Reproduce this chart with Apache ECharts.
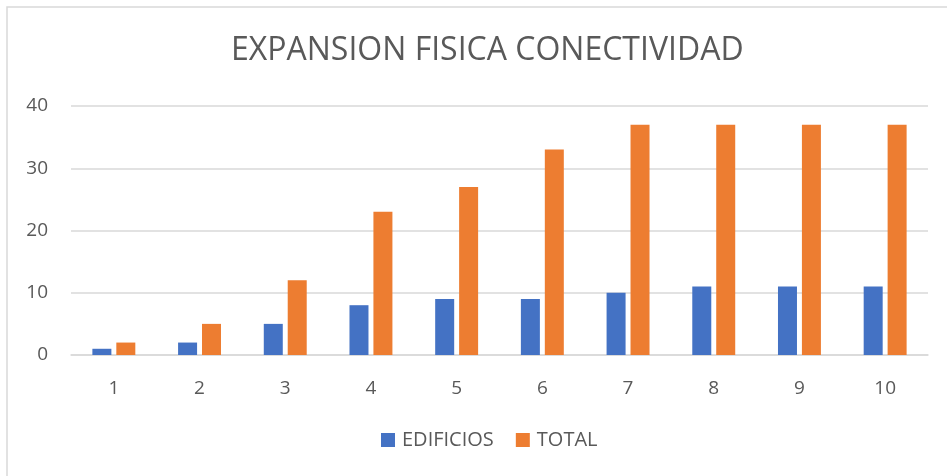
<!DOCTYPE html>
<html>
<head>
    <meta charset="utf-8"/>
    <title>Expansion fisica conectividad</title>
    <script src="https://cdn.jsdelivr.net/npm/echarts@6/dist/echarts.min.js"></script>
    <style>
        html, body { margin: 0; padding: 0; background: #fff; }
        #main { width: 947px; height: 476px; }
    </style>
</head>
<body>
<div id="main"></div>
<script type="text/javascript">
    var categories = ['1', '2', '3', '4', '5', '6', '7', '8', '9', '10'];
    var edificios = [1, 2, 5, 8, 9, 9, 10, 11, 11, 11];
    var total = [2, 5, 12, 23, 27, 33, 37, 37, 37, 37];

    var font = '"Open Sans", "Liberation Sans", sans-serif';
    var myChart = echarts.init(document.getElementById('main'));

    var option = {
        backgroundColor: '#fff',
        animation: false,
        // light frame around the chart, like the office chart area
        graphic: [{
            type: 'rect',
            shape: { x: 7, y: 7, width: 980, height: 520 },
            style: { fill: 'none', stroke: '#d9d9d9', lineWidth: 1.5 },
            silent: true
        }],
        title: {
            text: 'EXPANSION FISICA CONECTIVIDAD',
            left: 226,
            top: 30,
            textStyle: {
                color: '#595959',
                fontFamily: font,
                fontSize: 32,
                fontWeight: 'normal'
            }
        },
        legend: {
            data: ['EDIFICIOS', 'TOTAL'],
            bottom: 21,
            left: 376,
            itemWidth: 14,
            itemHeight: 14,
            itemGap: 22,
            icon: 'rect',
            textStyle: { color: '#595959', fontFamily: font, fontSize: 20, padding: [0, 0, 0, 2] }
        },
        grid: {
            left: 71,
            right: 19,
            top: 106,
            bottom: 121,
            containLabel: false
        },
        xAxis: {
            type: 'category',
            data: categories,
            axisLine: { lineStyle: { color: '#d9d9d9', width: 1.5 } },
            axisTick: { show: false },
            axisLabel: { color: '#595959', fontFamily: font, fontSize: 19, margin: 24 }
        },
        yAxis: {
            type: 'value',
            min: 0,
            max: 40,
            interval: 10,
            axisLine: { show: false },
            axisTick: { show: false },
            splitLine: { lineStyle: { color: '#d9d9d9', width: 1.5 } },
            axisLabel: { color: '#595959', fontFamily: font, fontSize: 19, margin: 23 }
        },
        series: [
            {
                name: 'EDIFICIOS',
                type: 'bar',
                data: edificios,
                barWidth: 19,
                barGap: '26%',
                itemStyle: { color: '#4472C4' }
            },
            {
                name: 'TOTAL',
                type: 'bar',
                data: total,
                barWidth: 19,
                itemStyle: { color: '#ED7D31' }
            }
        ]
    };

    myChart.setOption(option);
</script>
</body>
</html>
